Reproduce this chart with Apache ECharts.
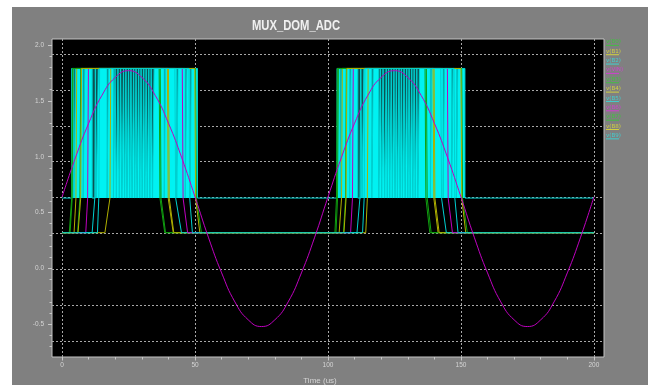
<!DOCTYPE html>
<html>
<head>
<meta charset="utf-8">
<script src="https://cdn.jsdelivr.net/npm/echarts@6/dist/echarts.min.js"></script>
<style>
  html, body { margin: 0; padding: 0; background: #fff; }
  #panel { position: absolute; left: 12px; top: 7px; width: 636px; height: 378px; background: #808080; }
  #chart { position: absolute; left: 0; top: 0; width: 654px; height: 385px; }
</style>
</head>
<body>
<div id="panel"></div>
<div id="chart"></div>
<script>
// signal levels (V)
const LOW = 0.32;
const MID = 0.63;
const HIGH = 1.79;

// input sine, sampled every 5 us
const vinTimes = [0, 5, 10, 15, 20, 25, 30, 35, 40, 45, 50, 55, 60, 65, 70, 75, 80, 85, 90, 95,
  100, 105, 110, 115, 120, 125, 130, 135, 140, 145, 150, 155, 160, 165, 170, 175, 180, 185, 190, 195, 200];
const vinVolts = [0.64, 0.99, 1.30, 1.55, 1.71, 1.77, 1.71, 1.55, 1.30, 0.99, 0.64, 0.28, -0.04, -0.30, -0.46, -0.52, -0.46, -0.30, -0.04, 0.28,
  0.64, 0.99, 1.30, 1.55, 1.71, 1.77, 1.71, 1.55, 1.30, 0.99, 0.64, 0.28, -0.04, -0.30, -0.46, -0.52, -0.46, -0.30, -0.04, 0.28, 0.64];

// digital bits: rise foot, rise knee, fall knee, fall foot (us), per burst
const edgesB0 = [2.7, 3.6, 36.8, 38.6, 102.6, 103.2, 136.8, 138.3];
const edgesB1 = [4.5, 5.2, 39.9, 41.8, 104.2, 105.1, 139.8, 141.4];
const edgesB3 = [5.8, 6.7, 37.2, 38.9, 105.8, 106.6, 137.3, 138.8];
const edgesB4 = [16.1, 18.0, 40.3, 42.0, 114.2, 114.8, 140.2, 141.8];
const edgesB5 = [11.3, 12.3, 42.7, 44.9, 110.9, 112.0, 142.7, 144.5];
const edgesB6 = [8.9, 9.6, 45.5, 47.2, 108.5, 109.2, 145.2, 146.8];
const edgesB7 = [3.0, 3.8, 50.5, 52.4, 103.0, 103.6, 150.6, 152.4];
const edgesB8 = [6.0, 7.0, 50.2, 51.8, 106.0, 106.8, 150.3, 151.8];
const edgesB9 = [13.3, 13.8, 48.0, 49.0, 113.0, 113.6, 147.7, 148.9];

// fast-toggling bit (B2): bursts and the short drops inside them (us)
const burstSpans = [[3.6, 50.9], [103.4, 151.5]];
const burstGaps = [
  [4.4, 5.1], [7.9, 8.5], [11.3, 12.5], [12.9, 13.6], [16.9, 17.4], [19.3, 19.9], [20.4, 21.0], [21.5, 22.0],
  [22.5, 23.1], [23.5, 24.0], [24.4, 25.0], [25.4, 25.9], [26.3, 26.9], [27.3, 27.8], [28.2, 28.8], [29.2, 29.7],
  [30.1, 30.7], [31.1, 31.6], [32.0, 32.6], [33.0, 33.5], [34.0, 34.6], [38.4, 38.9], [43.1, 43.6], [46.3, 46.9], [48.1, 48.6],
  [104.6, 105.2], [108.1, 108.6], [111.2, 112.3], [112.8, 113.5], [116.5, 117.0], [119.1, 119.7], [120.2, 120.7], [121.3, 121.9],
  [122.3, 122.8], [123.2, 123.8], [124.2, 124.8], [125.2, 125.7], [126.1, 126.7], [127.1, 127.6], [128.0, 128.6], [129.0, 129.6],
  [130.0, 130.5], [130.9, 131.5], [131.9, 132.4], [132.8, 133.4], [133.8, 134.4], [138.5, 139.0], [143.3, 143.8], [146.5, 147.0], [148.3, 148.8]
];

const traceNames = ['v(B0)', 'v(B1)', 'v(B2)', 'v(VIN)', 'v(B3)', 'v(B4)', 'v(B5)', 'v(B6)', 'v(B7)', 'v(B8)', 'v(B9)'];

// x ticks / y ticks
const timeTicks = [0, 50, 100, 150, 200];
const voltTicks = [-0.5, 0.0, 0.5, 1.0, 1.5, 2.0];

const GREEN = '#10a010';
const YELLOW = '#b0b000';
const CYAN = '#00d0d0';
const MAGENTA = '#c000c0';
const legendColors = ['#40c040', '#d0d040', '#40d0d0', '#d040d0'];
const colorKeys = ['g', 'y', 'c', 'm'];

const EDGE_TOP = 0.3; // knee -> high level

function digital(edges) {
  const pts = [[0, LOW]];
  for (let i = 0; i < edges.length; i += 4) {
    pts.push([edges[i], LOW], [edges[i + 1], MID], [edges[i + 1] + EDGE_TOP, HIGH],
      [edges[i + 2] - EDGE_TOP, HIGH], [edges[i + 2], MID], [edges[i + 3], LOW]);
  }
  pts.push([200, LOW]);
  return pts;
}

function toggling() {
  const pts = [[0, MID]];
  burstSpans.forEach(([a, b]) => {
    pts.push([a, MID], [a, HIGH]);
    burstGaps.filter(g => g[0] > a && g[1] < b).forEach(([s, e]) => {
      pts.push([s, HIGH], [s, MID], [e, MID], [e, HIGH]);
    });
    pts.push([b, HIGH], [b, MID]);
  });
  pts.push([200, MID]);
  return pts;
}

function burstBase() {
  const pts = [];
  burstSpans.forEach(([a, b], i) => {
    if (i > 0) pts.push([(pts[pts.length - 1][0] + a) / 2, '-']);
    pts.push([a, HIGH], [b, HIGH]);
  });
  return pts;
}

const base = { type: 'line', xAxisIndex: 0, yAxisIndex: 0, showSymbol: false, symbol: 'none', silent: true, animation: false };
const lineOf = (name, data, color, extra) => Object.assign({}, base, {
  name, data, lineStyle: { width: 1, color }, itemStyle: { color }
}, extra || {});

const series = [
  Object.assign({}, base, {
    name: 'burst-bg', data: burstBase(), lineStyle: { width: 0 },
    areaStyle: { origin: MID, color: '#0b5252', opacity: 1 }, connectNulls: false
  }),
  lineOf('v(B2)', toggling(), CYAN, { areaStyle: { origin: MID, color: '#00f2f2', opacity: 1 } }),
  lineOf('v(B0)', digital(edgesB0), GREEN),
  lineOf('v(B1)', digital(edgesB1), YELLOW),
  lineOf('v(B3)', digital(edgesB3), GREEN),
  lineOf('v(B4)', digital(edgesB4), YELLOW),
  lineOf('v(B5)', digital(edgesB5), CYAN),
  lineOf('v(B6)', digital(edgesB6), MAGENTA),
  lineOf('v(B7)', digital(edgesB7), GREEN),
  lineOf('v(B8)', digital(edgesB8), YELLOW),
  lineOf('v(B9)', digital(edgesB9), CYAN),
  lineOf('v(VIN)', vinTimes.map((t, i) => [t, vinVolts[i]]), MAGENTA, { smooth: true, z: 3 })
];

const rich = {};
colorKeys.forEach((k, i) => {
  rich['t' + k] = { color: legendColors[i], fontSize: 5.5, lineHeight: 4.7, fontFamily: 'DejaVu Sans' };
  rich['u' + k] = { width: 13, height: 1, lineHeight: 2, backgroundColor: legendColors[i] };
});

const tickText = { color: '#d4d4d4', fontSize: 6.5, fontFamily: 'Liberation Sans' };
const gridLine = { show: true, lineStyle: { color: '#a8a8a8', type: [2, 2], width: 1 } };
const hidden = { show: false };

const chart = echarts.init(document.getElementById('chart'), null, { renderer: 'canvas' });
chart.setOption({
  animation: false,
  backgroundColor: 'transparent',
  title: [
    { text: 'Time (us)', left: 320, top: 377, padding: 0, textAlign: 'center',
      textStyle: { color: '#d4d4d4', fontSize: 8, fontWeight: 'normal', fontFamily: 'Liberation Sans' } }
  ],
  graphic: [
    { type: 'text', x: 296, y: 26, scaleX: 0.75, silent: true,
      style: { text: 'MUX_DOM_ADC', fill: '#f0f0f0', textAlign: 'center', textVerticalAlign: 'middle',
        font: 'bold 15px "Liberation Sans", Arial, sans-serif' } }
  ],
  legend: {
    orient: 'vertical', left: 601, top: 39, padding: 0, itemGap: 0,
    itemWidth: 0, itemHeight: 0, icon: 'rect', selectedMode: false,
    data: traceNames,
    formatter: name => {
      const k = colorKeys[traceNames.indexOf(name) % 4];
      return '{t' + k + '|' + name + '}\n{u' + k + '|}';
    },
    textStyle: { fontSize: 5.5, rich }
  },
  grid: [
    { left: 52, top: 39, width: 552, height: 318, show: true, backgroundColor: '#000', borderColor: '#c4c4c4', borderWidth: 1 },
    { left: 52, top: 54, width: 552, height: 287 },
    { left: 62.1, top: 39, width: 531.8, height: 318 },
    { left: 52, top: 45, width: 552, height: 301.6 },
    { left: 52, top: 45, width: 552, height: 279.3 }
  ],
  xAxis: [
    { type: 'value', gridIndex: 0, min: -3.8, max: 203.8, show: false },
    { type: 'value', gridIndex: 1, min: 0, max: 1, show: false },
    { type: 'value', gridIndex: 2, min: timeTicks[0], max: timeTicks[timeTicks.length - 1], interval: 50, position: 'bottom',
      axisLine: hidden, axisTick: { show: true, length: 3.5, lineStyle: { color: '#c8c8c8' } },
      minorTick: { show: true, splitNumber: 5, length: 2.5, lineStyle: { color: '#c8c8c8' } },
      axisLabel: Object.assign({ margin: 5 }, tickText), splitLine: gridLine },
    { type: 'value', gridIndex: 3, min: 0, max: 1, show: false },
    { type: 'value', gridIndex: 4, min: 0, max: 1, show: false }
  ],
  yAxis: [
    { type: 'value', gridIndex: 0, min: -0.7927, max: 2.0537, show: false },
    { type: 'value', gridIndex: 1, min: 0, max: 8, interval: 1, axisLine: hidden, axisTick: hidden, axisLabel: hidden, splitLine: gridLine },
    { type: 'value', gridIndex: 2, min: 0, max: 1, show: false },
    { type: 'value', gridIndex: 3, min: -0.7, max: 2.0, interval: 0.1, axisLine: hidden, axisLabel: hidden, splitLine: hidden,
      axisTick: { show: true, length: 2.5, lineStyle: { color: '#c8c8c8' } } },
    { type: 'value', gridIndex: 4, min: voltTicks[0], max: voltTicks[voltTicks.length - 1], interval: 0.5, axisLine: hidden, splitLine: hidden,
      axisTick: { show: true, length: 4, lineStyle: { color: '#c8c8c8' } },
      axisLabel: Object.assign({ margin: 8, formatter: v => v.toFixed(1) }, tickText) }
  ],
  series
});
</script>
</body>
</html>
